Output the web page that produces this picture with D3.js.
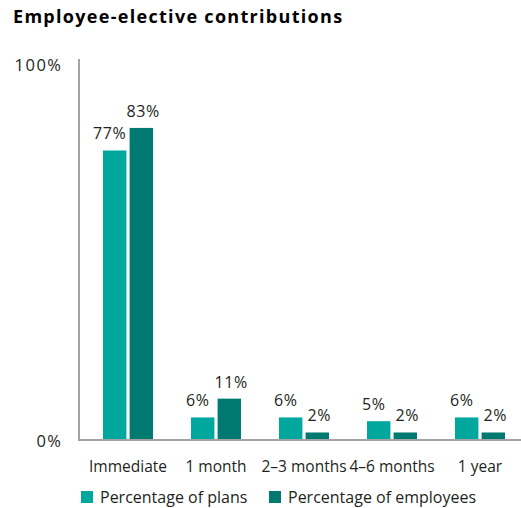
<!DOCTYPE html>
<html>
<head>
<meta charset="utf-8">
<script src="https://cdn.jsdelivr.net/npm/d3@7/dist/d3.min.js"></script>
<style>
  html, body { margin: 0; padding: 0; background: #ffffff; }
  svg { display: block; }
  text { font-family: "Open Sans", "Noto Sans", sans-serif; fill: #231f20; }
</style>
</head>
<body>
<svg id="chart" width="521" height="508"></svg>
<script>
// Waiting period for employee-elective contributions
const categories = ["Immediate", "1 month", "2\u20133 months", "4\u20136 months", "1 year"];
const seriesNames = ["Percentage of plans", "Percentage of employees"];
const plans = [77, 6, 6, 5, 6];
const employees = [83, 11, 2, 2, 2];
const yTicks = [0, 100];

const colors = ["#00a79d", "#007a71"];
const axisGrey = "#a3a3a3";
const FONT = "'Open Sans', 'Noto Sans', sans-serif";

const svg = d3.select("#chart");
const W = 521;

const x0 = d3.scaleBand().domain(categories).range([84, 524])
  .paddingInner(0.432).paddingOuter(0.216);
const x1 = d3.scaleBand().domain(seriesNames).range([0, x0.bandwidth()])
  .paddingInner(0.12);
const y = d3.scaleLinear().domain([0, 100]).range([440, 64]);

const rows = categories.map((c, i) => ({
  category: c,
  values: [
    { key: seriesNames[0], value: plans[i], idx: 0 },
    { key: seriesNames[1], value: employees[i], idx: 1 }
  ]
}));

// Title
svg.append("text")
  .attr("x", 13).attr("y", 23)
  .style("font-size", "18px").style("font-weight", "700")
  .style("letter-spacing", "1.3px")
  .style("fill", "#000")
  .text("Employee-elective contributions");

// Bars
const groups = svg.append("g").selectAll("g").data(rows).join("g")
  .attr("transform", d => `translate(${x0(d.category)},0)`);

groups.selectAll("rect").data(d => d.values).join("rect")
  .attr("x", d => x1(d.key))
  .attr("y", d => y(d.value))
  .attr("width", x1.bandwidth())
  .attr("height", d => y(0) - y(d.value) - 0.5)
  .attr("fill", d => colors[d.idx]);

// Value labels above bars
groups.selectAll("text.val").data(d => d.values).join("text")
  .attr("class", "val")
  .attr("x", d => x1(d.key) + x1.bandwidth() / 2 + (d.idx === 0 ? -5 : 2))
  .attr("y", d => y(d.value) - 11)
  .attr("text-anchor", "middle")
  .style("font-size", "16px")
  .style("letter-spacing", "0.6px")
  .text(d => d.value + "%");

// Axis lines
svg.append("line")
  .attr("x1", 79).attr("x2", 79)
  .attr("y1", y(100) - 5).attr("y2", y(0) + 1)
  .attr("stroke", axisGrey).attr("stroke-width", 2);
svg.append("line")
  .attr("x1", 78).attr("x2", W)
  .attr("y1", y(0)).attr("y2", y(0))
  .attr("stroke", axisGrey).attr("stroke-width", 2);

// Y tick labels
const yAxis = svg.append("g").attr("transform", "translate(62.5,0)")
  .call(d3.axisLeft(y).tickValues(yTicks).tickSize(0).tickPadding(0)
    .tickFormat(d => d + "%"));
yAxis.select(".domain").remove();
yAxis.selectAll("text")
  .attr("dy", "0.38em")
  .style("font-size", "16.5px")
  .style("letter-spacing", "1.5px")
  .style("font-family", FONT)
  .attr("fill", "#231f20");

// Category labels
const xAxis = svg.append("g").attr("transform", `translate(0,${y(0)})`)
  .call(d3.axisBottom(x0).tickSize(0).tickPadding(0));
xAxis.select(".domain").remove();
xAxis.selectAll("text")
  .attr("y", 32).attr("dy", 0)
  .style("font-size", "15.5px")
  .style("font-family", FONT)
  .attr("fill", "#231f20");

// Legend
const legendX = [81, 269];
const legend = svg.append("g").selectAll("g").data(seriesNames).join("g")
  .attr("transform", (d, i) => `translate(${legendX[i]},491)`);
legend.append("rect")
  .attr("width", 12).attr("height", 12)
  .attr("fill", (d, i) => colors[i]);
legend.append("text")
  .attr("x", 19).attr("y", 11.5)
  .style("font-size", "16px")
  .text(d => d);
</script>
</body>
</html>
